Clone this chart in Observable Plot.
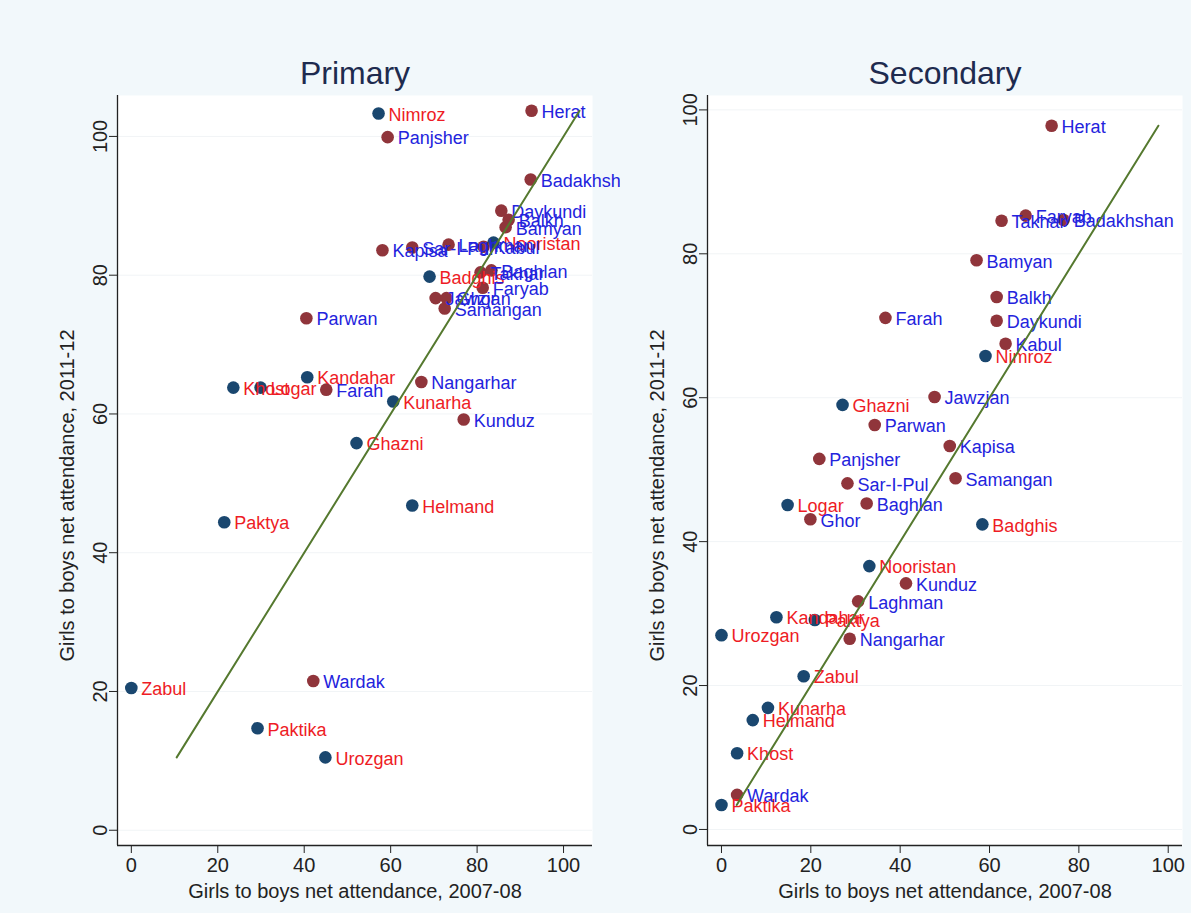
<!DOCTYPE html>
<html><head><meta charset="utf-8">
<script src="https://cdn.jsdelivr.net/npm/d3@7"></script>
<script src="https://cdn.jsdelivr.net/npm/@observablehq/plot@0.6"></script>
<style>
html,body{margin:0;padding:0;background:#f2f8fb;}
#wrap{position:relative;width:1191px;height:913px;overflow:hidden;background:#f2f8fb;}
#wrap svg{position:absolute;top:0;}
</style></head><body><div id="wrap"></div>
<script>
// Province names and group (A: navy marker / red label, B: maroon marker / blue label)
const provinces = ["Herat","Nimroz","Panjsher","Badakhshan","Daykundi","Balkh","Bamyan","Kapisa","Sar-I-Pul","Laghman","Kabul","Nooristan","Badghis","Takhar","Baghlan","Faryab","Jawzjan","Ghor","Samangan","Parwan","Kandahar","Khost","Logar","Farah","Nangarhar","Kunarha","Kunduz","Ghazni","Helmand","Paktya","Zabul","Wardak","Paktika","Urozgan"];
const groups = ["B","A","B","B","B","B","B","B","B","B","B","A","A","B","B","B","B","B","B","B","A","A","A","B","B","A","B","A","A","A","A","B","A","A"];
// Primary: girls to boys net attendance
const primary0708 = [92.6,57.2,59.3,92.4,85.6,87.3,86.6,58.1,65.0,73.4,81.5,83.8,69.0,80.8,83.3,81.3,70.4,72.9,72.5,40.5,40.7,23.6,29.9,45.1,67.1,60.6,76.9,52.1,65.0,21.5,0.0,42.1,29.2,44.9];
const primary1112 = [103.7,103.3,99.9,93.8,89.3,88.0,86.9,83.6,84.0,84.4,84.1,84.7,79.8,80.4,80.7,78.2,76.7,76.7,75.2,73.8,65.3,63.8,63.8,63.5,64.6,61.8,59.2,55.8,46.8,44.4,20.5,21.5,14.7,10.5];
// Secondary: girls to boys net attendance
const secondary0708 = [73.9,59.1,21.9,76.6,61.6,61.6,57.1,51.1,28.2,30.6,63.6,33.1,58.4,62.7,32.5,68.1,47.7,19.9,52.4,34.3,12.3,3.5,14.8,36.7,28.7,10.4,41.3,27.1,7.0,20.9,18.4,3.5,0.0,0.0];
const secondary1112 = [97.8,65.8,51.5,84.7,70.7,74.0,79.1,53.3,48.1,31.7,67.5,36.6,42.4,84.6,45.3,85.3,60.1,43.1,48.8,56.2,29.5,10.6,45.1,71.1,26.5,16.9,34.2,59.0,15.2,29.1,21.3,4.8,3.4,27.0];
const panelTitles = ["Primary","Secondary"];
const xTicks = [0,20,40,60,80,100];
const yTicks = [0,20,40,60,80,100];
const xTitle = "Girls to boys net attendance, 2007-08";
const yTitle = "Girls to boys net attendance, 2011-12";

const FONT = "'Liberation Sans', Arial, Helvetica, sans-serif";
const NAVY = "#1a476f", MAROON = "#90353b", RED = "#ee1c25", BLUE = "#2323dd", LINE = "#55792f";

function panel(title, xs, ys, cfg) {
  const data = provinces.map((p, i) => ({name: p, grp: groups[i], x: xs[i], y: ys[i]}));
  const lo = d3.min(ys), hi = d3.max(ys);
  const A = data.filter(d => d.grp === "A"), B = data.filter(d => d.grp === "B");
  const svg = Plot.plot({
    width: cfg.width, height: 913,
    marginLeft: cfg.ml, marginRight: cfg.mr, marginTop: 95, marginBottom: 68,
    style: {background: "transparent", fontFamily: FONT, overflow: "hidden"},
    x: {domain: cfg.xd, label: null},
    y: {domain: cfg.yd, label: null},
    marks: [
      Plot.frame({fill: "white", stroke: null}),
      Plot.gridY(yTicks, {stroke: "#f1f4f6", strokeOpacity: 1, strokeWidth: 1}),
      Plot.ruleX([cfg.xd[0]], {stroke: "#222", strokeWidth: 1.3}),
      Plot.ruleY([cfg.yd[0]], {stroke: "#222", strokeWidth: 1.3}),
      Plot.axisX(xTicks, {tickSize: 8, tickPadding: 4, fontSize: 20, fill: "#222", stroke: "#222", label: null}),
      Plot.axisY(yTicks, {tickSize: 8, tickPadding: 3, tickRotate: -90, fontSize: 20, fill: "#222", stroke: "#222", label: null}),
      Plot.text([xTitle], {frameAnchor: "bottom", dy: 52, fontSize: 20, fill: "#222"}),
      Plot.text([yTitle], {frameAnchor: "left", dx: -50, dy: 25, rotate: -90, textAnchor: "middle", fontSize: 20, fill: "#222"}),
      Plot.text([title], {frameAnchor: "top", dy: -34, fontSize: 32, fill: "#1e2b4f"}),
      Plot.dot(A, {x: "x", y: "y", r: 6.3, fill: NAVY, stroke: null}),
      Plot.dot(B, {x: "x", y: "y", r: 6.3, fill: MAROON, stroke: null}),
      Plot.text(A, {x: "x", y: "y", text: "name", dx: 10, dy: 1.5, textAnchor: "start", fontSize: 18, fill: RED}),
      Plot.text(B, {x: "x", y: "y", text: "name", dx: 10, dy: 1.5, textAnchor: "start", fontSize: 18, fill: BLUE}),
      Plot.line([[lo, lo], [hi, hi]], {stroke: LINE, strokeWidth: 2})
    ]
  });
  svg.style.left = cfg.left + "px";
  return svg;
}

const wrap = document.getElementById("wrap");
wrap.appendChild(panel(panelTitles[0], primary0708, primary1112,
  {left: 0, width: 620, ml: 117, mr: 28, xd: [-3.2, 106.7], yd: [-2.2, 105.9]}));
wrap.appendChild(panel(panelTitles[1], secondary0708, secondary1112,
  {left: 620, width: 571, ml: 87, mr: 9, xd: [-3.13, 103.2], yd: [-2.23, 102.0]}));
</script></body></html>
